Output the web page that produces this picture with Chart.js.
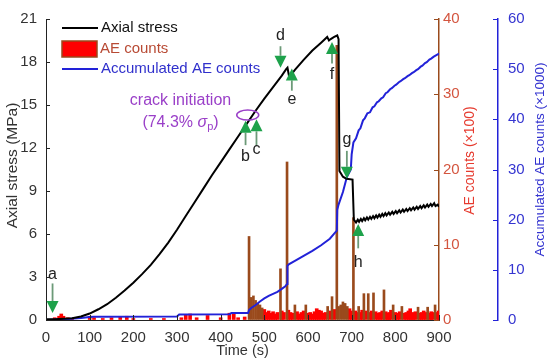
<!DOCTYPE html>
<html>
<head>
<meta charset="utf-8">
<script src="https://cdn.jsdelivr.net/npm/chart.js@4"></script>
<style>
  body { margin: 0; background: #fff; }
  canvas { display: block; }
</style>
</head>
<body>
<canvas id="myChart" width="550" height="364"></canvas>
<script>
// axial stress (MPa) against time (s)
const stressTime = [0, 20, 40, 60, 80, 100, 120, 140, 160, 180, 200, 220, 240, 260, 280, 300, 320, 340, 360, 380,
  400, 420, 440, 460, 480, 500, 520, 540, 550, 553, 557, 570, 590, 610, 630, 644, 648, 652, 660, 667, 670, 672,
  680, 688, 702, 705, 710, 714, 717, 721, 724, 728, 731, 735, 738, 742, 745, 749, 752, 756, 759, 763, 766, 770,
  773, 777, 780, 785, 788, 793, 796, 801, 804, 809, 812, 817, 820, 825, 828, 833, 836, 841, 844, 849, 852, 857,
  860, 865, 868, 873, 876, 881, 884, 889, 892, 897, 900];
const stressValue = [0.05, 0.05, 0.08, 0.12, 0.25, 0.45, 0.75, 1.1, 1.55, 2.05, 2.6, 3.2, 3.85, 4.6, 5.4, 6.3, 7.25, 8.2, 9.15, 10.1,
  11.0, 11.9, 12.8, 13.7, 14.6, 15.45, 16.25, 17.05, 17.5, 17.6, 16.95, 17.45, 18.15, 18.8, 19.35, 19.75, 19.5, 19.6, 19.75, 19.85, 19.6, 10.4,
  10.0, 9.85, 9.8, 7.0, 6.8, 7.0, 6.85, 7.05, 6.9, 7.1, 6.95, 7.15, 7.0, 7.2, 7.05, 7.25, 7.1, 7.3, 7.15, 7.35, 7.2, 7.4,
  7.25, 7.45, 7.3, 7.5, 7.35, 7.55, 7.4, 7.6, 7.45, 7.65, 7.5, 7.7, 7.55, 7.75, 7.6, 7.8, 7.65, 7.85, 7.7, 7.9, 7.75, 7.95,
  7.8, 8.0, 7.85, 8.05, 7.9, 8.1, 7.95, 8.15, 7.95, 8.05, 7.9];

// AE counts (x100)
const aeTime = [20, 30, 35, 40, 50, 60, 100, 110, 130, 150, 170, 185, 200, 240, 270, 310, 320, 330, 345, 370, 400, 420, 430, 440, 455,
  465, 470, 475, 480, 485, 490, 495, 500, 505, 510, 515, 520, 525, 530, 537, 540, 545, 552, 555, 560, 565, 570, 575, 580, 585,
  590, 595, 600, 605, 610, 615, 620, 625, 630, 635, 640, 645, 650, 655, 660, 666, 670, 675, 680, 685, 690, 695, 700, 704,
  708, 712, 716, 720, 724, 728, 732, 738, 742, 746, 750, 755, 760, 765, 770, 774, 778, 782, 786, 790, 795, 800, 805, 810,
  815, 820, 825, 830, 834, 838, 842, 846, 852, 856, 860, 865, 870, 874, 878, 882, 886, 891, 895, 899];
const aeCount = [0.3, 0.5, 0.8, 0.5, 0.3, 0.2, 0.5, 0.3, 0.2, 0.3, 0.4, 0.5, 0.2, 0.2, 0.2, 0.3, 0.7, 0.8, 0.3, 0.6, 0.3, 0.9, 0.9, 0.3, 0.4,
  11.1, 3.0, 3.2, 2.6, 2.2, 2.0, 1.6, 1.4, 1.0, 1.2, 0.9, 1.1, 0.8, 1.0, 6.8, 1.2, 1.0, 21.0, 1.3, 1.0, 0.9, 2.0, 1.1, 0.8, 1.0,
  1.2, 2.0, 0.9, 1.0, 0.8, 1.1, 1.5, 1.3, 1.2, 0.9, 1.0, 1.8, 1.2, 3.1, 1.4, 36.5, 1.8, 2.0, 2.4, 2.2, 1.8, 1.5, 1.2, 13.6,
  1.2, 1.0, 1.8, 1.0, 1.3, 3.5, 1.2, 3.5, 1.0, 1.2, 3.6, 1.1, 0.9, 1.0, 1.2, 4.0, 1.1, 0.9, 1.0, 1.3, 2.0, 1.0, 0.9, 1.1,
  1.8, 0.9, 1.0, 1.2, 1.5, 0.9, 1.0, 1.1, 1.7, 0.9, 1.0, 1.2, 1.0, 1.7, 0.9, 1.1, 1.0, 2.0, 1.0, 1.2];

// accumulated AE counts (x1000)
const accTime = [0, 50, 80, 100, 110, 300, 305, 420, 425, 463, 465, 470, 480, 490, 500, 510, 520, 530, 540, 548, 552, 553, 556,
  570, 590, 610, 630, 650, 660, 666, 667, 670, 680, 689, 698, 700, 704, 710, 716, 720, 726, 730, 736, 742, 748, 752, 758, 762,
  768, 772, 778, 782, 788, 792, 798, 802, 808, 812, 818, 822, 828, 832, 838, 842, 848, 852, 858, 862, 868, 872, 878, 882, 888,
  892, 898, 900];
const accValue = [0, 0.2, 0.4, 0.6, 0.65, 0.7, 1.1, 1.15, 1.4, 1.4, 2.0, 2.4, 3.0, 3.7, 4.3, 4.8, 5.2, 5.6, 6.2, 6.7, 7.2, 10.8, 11.1,
  11.8, 12.8, 13.8, 14.9, 16.2, 17.2, 17.8, 22.0, 23.0, 25.5, 28.5, 30.0, 33.0, 35.4, 36.2, 37.8, 38.2, 39.8, 40.2, 41.2, 41.4, 42.4, 42.6, 43.4, 43.6,
  44.2, 44.4, 45.2, 45.4, 46.0, 46.2, 46.7, 46.9, 47.4, 47.6, 48.0, 48.2, 48.6, 48.8, 49.2, 49.4, 49.8, 50.0, 50.5, 50.7, 51.2, 51.4, 51.9, 52.1, 52.5,
  52.7, 53.0, 53.1];

const xTicks = [0, 100, 200, 300, 400, 500, 600, 700, 800, 900];
const stressTicks = [0, 3, 6, 9, 12, 15, 18, 21];
const aeTicks = [0, 10, 20, 30, 40];
const accTicks = [0, 10, 20, 30, 40, 50, 60];

// arrow annotations: x in s, y in MPa
const arrowLabels = ["a", "b", "c", "d", "e", "f", "g", "h"];
const arrowTime = [15, 457, 482, 537, 563, 655, 689, 715];
const arrowFrom = [2.55, 12.2, 12.2, 19.1, 16.0, 17.9, 11.8, 5.0];
const arrowTo = [0.48, 13.9, 14.0, 17.6, 17.55, 19.4, 9.85, 6.7];
const arrowText = [3.2, 11.4, 11.9, 19.85, 15.35, 17.1, 12.6, 4.0];

const FONT = "'Liberation Sans', Arial, sans-serif";
const RED = "#ff0000";
const BROWN = "#9a4a1c";
const BLUE = "#2222d8";
const SPIKE = 1.5; // counts above this show as brown spikes

const ctx = document.getElementById("myChart");

const pts = (xs, ys) => xs.map((t, i) => ({ x: t, y: ys[i] }));
const aePts = pts(aeTime, aeCount);

function arrow(c, px, y0, y1) {
  const dir = y1 > y0 ? 1 : -1;
  const head = 12;
  c.strokeStyle = "#6c9a78";
  c.lineWidth = 1.8;
  c.beginPath();
  c.moveTo(px, y0);
  c.lineTo(px, y1 - dir * head);
  c.stroke();
  c.fillStyle = "#1ea24b";
  c.beginPath();
  c.moveTo(px, y1);
  c.lineTo(px - 6, y1 - dir * head);
  c.lineTo(px + 6, y1 - dir * head);
  c.closePath();
  c.fill();
}

const overlay = {
  id: "overlay",
  afterDraw(chart) {
    const c = chart.ctx;
    const area = chart.chartArea;
    const { x, y, y1, y2 } = chart.scales;
    c.save();

    // tick marks pointing into the plot
    c.lineWidth = 1;
    c.strokeStyle = "#222";
    c.beginPath();
    y.ticks.forEach((t) => {
      const py = Math.round(y.getPixelForValue(t.value)) + 0.5;
      c.moveTo(area.left, py);
      c.lineTo(area.left + 4, py);
    });
    x.ticks.forEach((t) => {
      const px = Math.round(x.getPixelForValue(t.value)) + 0.5;
      c.moveTo(px, area.bottom);
      c.lineTo(px, area.bottom - 5);
    });
    c.stroke();
    c.strokeStyle = BROWN;
    c.beginPath();
    y1.ticks.forEach((t) => {
      const py = Math.round(y1.getPixelForValue(t.value)) + 0.5;
      c.moveTo(y1.left, py);
      c.lineTo(y1.left - 5, py);
    });
    c.stroke();
    c.strokeStyle = BLUE;
    c.beginPath();
    y2.ticks.forEach((t) => {
      const py = Math.round(y2.getPixelForValue(t.value)) + 0.5;
      c.moveTo(y2.left, py);
      c.lineTo(y2.left - 5, py);
    });
    c.stroke();

    // axis titles
    const midY = (area.top + area.bottom) / 2;
    c.textAlign = "center";
    c.textBaseline = "middle";
    const vtitle = (text, px, py, color, size) => {
      c.save();
      c.translate(px, py);
      c.rotate(-Math.PI / 2);
      c.fillStyle = color;
      c.font = size + "px " + FONT;
      c.fillText(text, 0, 0);
      c.restore();
    };
    vtitle("Axial stress (MPa)", 13, midY - 4, "#333", 15.5);
    vtitle("AE counts (\u00d7100)", y1.left + 31, midY - 9, "#e63a2e", 14);
    vtitle("Accumulated AE counts (\u00d71000)", y2.left + 42, midY - 10, "#3333d0", 13.5);
    c.fillStyle = "#333";
    c.font = "14.5px " + FONT;
    c.fillText("Time (s)", (area.left + area.right) / 2, 351);

    // legend
    const lx = area.left + 16;
    c.lineWidth = 2;
    c.strokeStyle = "#000";
    c.beginPath();
    c.moveTo(lx, area.top + 9);
    c.lineTo(lx + 36, area.top + 9);
    c.stroke();
    c.fillStyle = RED;
    c.fillRect(lx, area.top + 22, 35, 16);
    c.strokeStyle = BROWN;
    c.lineWidth = 1.5;
    c.strokeRect(lx, area.top + 22, 35, 16);
    c.strokeStyle = BLUE;
    c.lineWidth = 2;
    c.beginPath();
    c.moveTo(lx, area.top + 50);
    c.lineTo(lx + 36, area.top + 50);
    c.stroke();
    c.textAlign = "left";
    c.font = "15px " + FONT;
    c.fillStyle = "#111";
    c.fillText("Axial stress", lx + 39, area.top + 9);
    c.fillStyle = "#b84a34";
    c.fillText("AE counts", lx + 38, area.top + 30);
    c.fillStyle = "#3030cc";
    c.fillText("Accumulated AE counts", lx + 39, area.top + 50);

    // crack initiation note
    const purple = "#9a3fc8";
    c.fillStyle = purple;
    c.textAlign = "center";
    c.font = "16px " + FONT;
    c.fillText("crack initiation", x.getPixelForValue(308), y.getPixelForValue(15.3));
    const l2y = y.getPixelForValue(13.8);
    const parts = ["(74.3% ", "\u03c3", "p", ")"];
    c.font = "16px " + FONT;
    const w0 = c.measureText(parts[0]).width;
    c.font = "italic 16px " + FONT;
    const w1 = c.measureText(parts[1]).width;
    c.font = "11px " + FONT;
    const w2 = c.measureText(parts[2]).width;
    c.font = "16px " + FONT;
    const w3 = c.measureText(parts[3]).width;
    let sx = x.getPixelForValue(308) - (w0 + w1 + w2 + w3) / 2;
    c.textAlign = "left";
    c.fillText(parts[0], sx, l2y);
    sx += w0;
    c.font = "italic 16px " + FONT;
    c.fillText(parts[1], sx, l2y);
    sx += w1;
    c.font = "11px " + FONT;
    c.fillText(parts[2], sx, l2y + 5);
    sx += w2;
    c.font = "16px " + FONT;
    c.fillText(parts[3], sx, l2y);
    c.strokeStyle = purple;
    c.lineWidth = 1.5;
    c.beginPath();
    c.ellipse(x.getPixelForValue(462), y.getPixelForValue(14.3), 11, 5, 0, 0, Math.PI * 2);
    c.stroke();

    // arrows a-h
    arrowLabels.forEach((lab, i) => {
      const px = x.getPixelForValue(arrowTime[i]);
      arrow(c, px, y.getPixelForValue(arrowFrom[i]), y.getPixelForValue(arrowTo[i]));
      c.fillStyle = "#222";
      c.font = "16px " + FONT;
      c.textAlign = "center";
      c.textBaseline = "middle";
      c.fillText(lab, px, y.getPixelForValue(arrowText[i]));
    });

    c.restore();
  },
};

new Chart(ctx, {
  type: "bar",
  data: {
    datasets: [
      {
        type: "line",
        label: "Axial stress",
        data: pts(stressTime, stressValue),
        borderColor: "#000",
        borderWidth: 2,
        pointRadius: 0,
        yAxisID: "y",
        order: 0,
      },
      {
        type: "line",
        label: "Accumulated AE counts",
        data: pts(accTime, accValue),
        borderColor: BLUE,
        borderWidth: 2,
        pointRadius: 0,
        yAxisID: "y2",
        order: 1,
      },
      {
        type: "bar",
        label: "AE counts",
        data: aePts.filter((p) => p.y <= SPIKE),
        backgroundColor: RED,
        barThickness: 3,
        grouped: false,
        yAxisID: "y1",
        order: 3,
      },
      {
        type: "bar",
        label: "AE counts (spikes)",
        data: aePts.filter((p) => p.y > SPIKE),
        backgroundColor: BROWN,
        barThickness: 2,
        grouped: false,
        yAxisID: "y1",
        order: 2,
      },
    ],
  },
  options: {
    responsive: false,
    animation: false,
    layout: { padding: { top: 15, right: 0, left: 0, bottom: 0 } },
    plugins: { legend: { display: false }, tooltip: { enabled: false } },
    scales: {
      x: {
        type: "linear",
        min: 0,
        max: 900,
        offset: false,
        afterBuildTicks: (s) => { s.ticks = xTicks.map((v) => ({ value: v })); },
        afterFit: (s) => { s.height = 44; },
        grid: { drawOnChartArea: false, drawTicks: false },
        border: { color: "#222", width: 1 },
        ticks: { color: "#333", font: { family: FONT, size: 15 }, padding: 9, maxRotation: 0 },
      },
      y: {
        position: "left",
        min: 0,
        max: 21,
        afterBuildTicks: (s) => { s.ticks = stressTicks.map((v) => ({ value: v })); },
        afterFit: (s) => { s.width = 46; },
        grid: { drawOnChartArea: false, drawTicks: false },
        border: { color: "#222", width: 1 },
        ticks: { color: "#333", font: { family: FONT, size: 15 }, padding: 9 },
      },
      y1: {
        position: "right",
        weight: 0,
        min: 0,
        max: 40,
        afterBuildTicks: (s) => { s.ticks = aeTicks.map((v) => ({ value: v })); },
        afterFit: (s) => { s.width = 59; },
        grid: { drawOnChartArea: false, drawTicks: false },
        border: { color: BROWN, width: 1.5 },
        ticks: { color: "#d4553f", font: { family: FONT, size: 15 }, padding: 4 },
      },
      y2: {
        position: "right",
        weight: 1,
        min: 0,
        max: 60,
        afterBuildTicks: (s) => { s.ticks = accTicks.map((v) => ({ value: v })); },
        afterFit: (s) => { s.width = 52; },
        grid: { drawOnChartArea: false, drawTicks: false },
        border: { color: BLUE, width: 1.5 },
        ticks: { color: "#3535d0", font: { family: FONT, size: 15 }, padding: 10 },
      },
    },
  },
  plugins: [overlay],
});
</script>
</body>
</html>
